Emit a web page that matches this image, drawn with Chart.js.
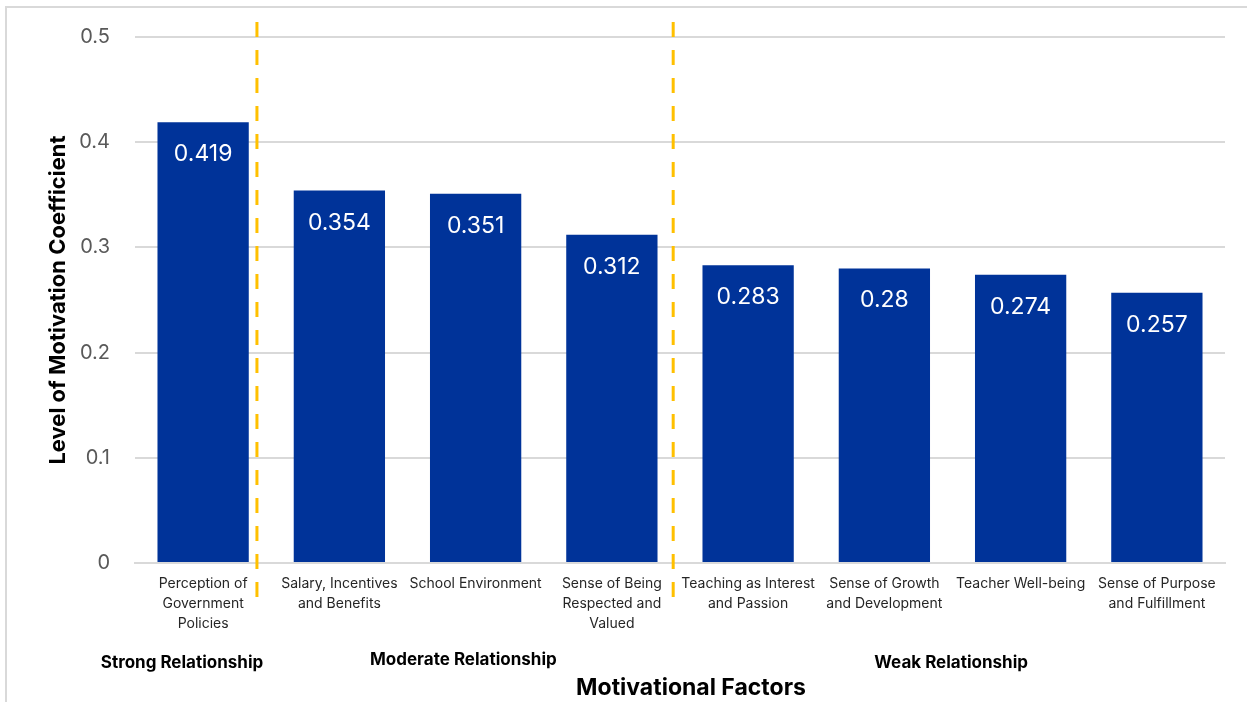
<!DOCTYPE html>
<html><head><meta charset="utf-8">
<script src="https://cdn.jsdelivr.net/npm/chart.js@4/dist/chart.umd.min.js"></script>
<style>html,body{margin:0;padding:0;background:#fff;}#wrap{position:relative;width:1247px;height:702px;}</style>
</head><body>
<div id="wrap"><canvas id="c" width="1247" height="702"></canvas></div>
<script>
const categories = [
  ["Perception of","Government","Policies"],
  ["Salary, Incentives","and Benefits"],
  ["School Environment"],
  ["Sense of Being","Respected and","Valued"],
  ["Teaching as Interest","and Passion"],
  ["Sense of Growth","and Development"],
  ["Teacher Well-being"],
  ["Sense of Purpose","and Fulfillment"]
];
const coefficients = [0.419, 0.354, 0.351, 0.312, 0.283, 0.28, 0.274, 0.257];
const yTicks = [0, 0.1, 0.2, 0.3, 0.4, 0.5];
const groupLabels = ["Strong Relationship", "Moderate Relationship", "Weak Relationship"];
const groupPositions = [-0.155, 1.91, 5.49];
const dividerPositions = [0.395, 3.45];
const xTitle = "Motivational Factors";
const yTitle = "Level of Motivation Coefficient";

const FONT = "Inter, 'Open Sans', sans-serif";

const extras = {
  id: 'extras',
  beforeDraw(chart) {
    const ctx = chart.ctx;
    ctx.save();
    ctx.strokeStyle = '#d9d9d9';
    ctx.lineWidth = 2;
    ctx.strokeRect(6, 7, 1300, 760);
    ctx.restore();
  },
  afterDatasetsDraw(chart) {
    const ctx = chart.ctx;
    const xs = chart.scales.x;
    const ca = chart.chartArea;
    const meta = chart.getDatasetMeta(0);
    ctx.save();
    ctx.fillStyle = '#ffffff';
    ctx.font = "23px " + FONT;
    ctx.textAlign = 'center';
    ctx.textBaseline = 'middle';
    meta.data.forEach((bar, i) => {
      ctx.fillText(String(coefficients[i]), bar.x, bar.y + 32);
    });
    ctx.strokeStyle = '#FFC000';
    ctx.lineWidth = 3;
    ctx.setLineDash([15, 13]);
    dividerPositions.forEach(p => {
      const x = xs.getPixelForValue(p);
      ctx.beginPath();
      ctx.moveTo(x, ca.top - 15);
      ctx.lineTo(x, ca.bottom + 34);
      ctx.stroke();
    });
    ctx.setLineDash([]);
    ctx.fillStyle = '#000000';
    ctx.font = "bold 17px " + FONT;
    groupLabels.forEach((t, i) => {
      ctx.fillText(t, xs.getPixelForValue(groupPositions[i]), ca.bottom + (i === 1 ? 97 : 100));
    });
    ctx.font = "bold 23px " + FONT;
    ctx.fillText(xTitle, (ca.left + ca.right) / 2 + 11, ca.bottom + 125);
    ctx.restore();
  }
};

new Chart(document.getElementById('c'), {
  type: 'bar',
  data: {
    labels: categories,
    datasets: [{
      data: coefficients,
      backgroundColor: '#003399',
      borderWidth: 0,
      categoryPercentage: 0.67,
      barPercentage: 1.0
    }]
  },
  options: {
    responsive: false,
    animation: false,
    devicePixelRatio: 1,
    layout: { padding: { top: 36, right: 22, left: 40, bottom: 0 } },
    plugins: { legend: { display: false }, tooltip: { enabled: false } },
    scales: {
      y: {
        min: 0, max: 0.5,
        afterBuildTicks(scale) { scale.ticks = yTicks.map(v => ({ value: v })); },
        afterFit(scale) { scale.width = 95; },
        ticks: { color: '#595959', font: { family: FONT, size: 20 }, padding: 25,
                 callback: v => String(Math.round(v * 10) / 10) },
        grid: { color: '#d9d9d9', lineWidth: 2, drawTicks: false },
        border: { display: false },
        title: { display: true, text: yTitle, color: '#000', font: { family: FONT, size: 22, weight: 'bold' }, padding: { top: 5, bottom: 0 } }
      },
      x: {
        afterFit(scale) { scale.height = 139; },
        grid: { display: false, drawTicks: false },
        border: { display: true, color: '#d9d9d9', width: 2 },
        ticks: { color: '#262626', font: { family: FONT, size: 14, lineHeight: 1.43 }, padding: 11, maxRotation: 0, autoSkip: false },
        title: { display: false }
      }
    }
  },
  plugins: [extras]
});
</script>
</body></html>
